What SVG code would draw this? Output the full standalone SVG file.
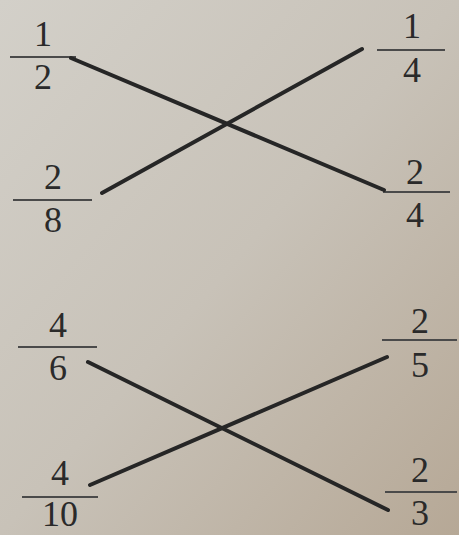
<svg xmlns="http://www.w3.org/2000/svg" width="459" height="535" viewBox="0 0 459 535">
<defs>
<linearGradient id="bg" x1="0" y1="0" x2="1" y2="1">
<stop offset="0" stop-color="#d3d0c9"/>
<stop offset="0.5" stop-color="#c8c2b8"/>
<stop offset="1" stop-color="#b6a896"/>
</linearGradient>
<style>
.d{font-family:"Liberation Serif","Times New Roman",serif;font-size:36px;fill:#2a2a2a;text-anchor:middle}
.bar{stroke:#4a4a4a;stroke-width:2}
.c{stroke:#262626;stroke-width:4;stroke-linecap:round;fill:none}
</style>
</defs>
<rect width="459" height="535" fill="url(#bg)"/>
<g id="f1-2"><text class="d" x="43" y="46">1</text><line class="bar" x1="10" y1="57" x2="76" y2="57"/><text class="d" x="43" y="89">2</text></g>
<g id="f2-8"><text class="d" x="53" y="189">2</text><line class="bar" x1="13" y1="200" x2="92" y2="200"/><text class="d" x="53" y="232">8</text></g>
<g id="f4-6"><text class="d" x="58" y="337">4</text><line class="bar" x1="18" y1="347" x2="97" y2="347"/><text class="d" x="58" y="380">6</text></g>
<g id="f4-10"><text class="d" x="60" y="485">4</text><line class="bar" x1="22" y1="497" x2="98" y2="497"/><text class="d" x="60" y="526">10</text></g>
<g id="f1-4"><text class="d" x="412" y="38">1</text><line class="bar" x1="377" y1="50" x2="445" y2="50"/><text class="d" x="412" y="82">4</text></g>
<g id="f2-4"><text class="d" x="415" y="184">2</text><line class="bar" x1="383" y1="192" x2="450" y2="192"/><text class="d" x="415" y="227">4</text></g>
<g id="f2-5"><text class="d" x="420" y="333">2</text><line class="bar" x1="382" y1="340" x2="457" y2="340"/><text class="d" x="420" y="377">5</text></g>
<g id="f2-3"><text class="d" x="420" y="482">2</text><line class="bar" x1="385" y1="492" x2="457" y2="492"/><text class="d" x="420" y="525">3</text></g>
<g id="connectors">
<line class="c" x1="71" y1="58" x2="384" y2="190"/>
<line class="c" x1="102" y1="193" x2="362" y2="49"/>
<line class="c" x1="88" y1="362" x2="388" y2="510"/>
<line class="c" x1="90" y1="485" x2="387" y2="357"/>
</g>
</svg>
